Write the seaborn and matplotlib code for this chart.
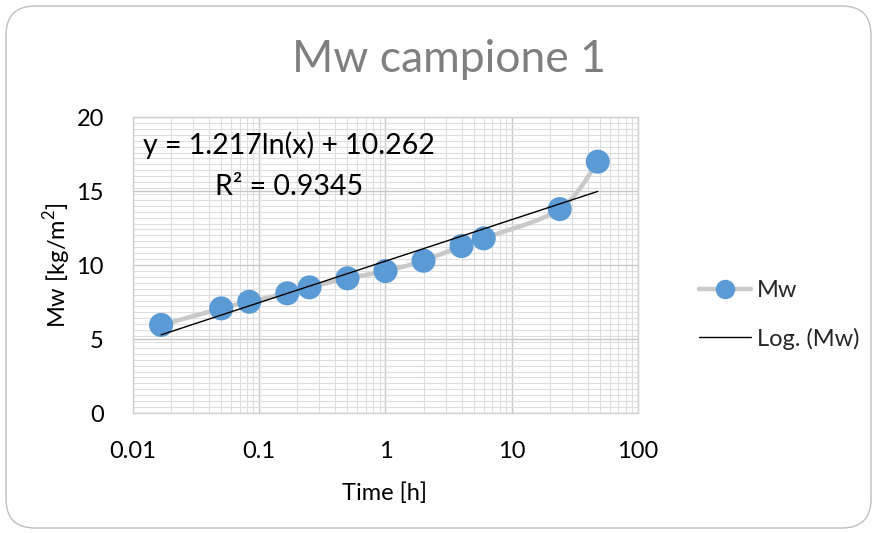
import numpy as np
import pandas as pd
import matplotlib
matplotlib.use("Agg")
import matplotlib.pyplot as plt
import seaborn as sns
from matplotlib.lines import Line2D
from matplotlib.patches import FancyBboxPatch
from matplotlib.ticker import FixedLocator, FixedFormatter, MultipleLocator, LogLocator, NullFormatter

# ---- data ----
time_h = [0.0167, 0.05, 0.0833, 0.1667, 0.25, 0.5, 1, 2, 4, 6, 24, 48]
mw = [5.95, 7.07, 7.52, 8.09, 8.49, 9.10, 9.59, 10.29, 11.28, 11.80, 13.78, 16.98]
trend_a = 1.217
trend_b = 10.262
r2 = 0.9345
x_ticks = [0.01, 0.1, 1, 10, 100]
x_tick_labels = ["0.01", "0.1", "1", "10", "100"]
y_ticks = [0, 5, 10, 15, 20]
title = "Mw campione 1"
x_label = "Time [h]"
y_label = "Mw [kg/m$^2$]"
series_name = "Mw"
trend_name = "Log. (Mw)"

sns.set_theme(style="white")
plt.rcParams["font.family"] = ["Lato", "DejaVu Sans"]
plt.rcParams["mathtext.fontset"] = "custom"
plt.rcParams["mathtext.rm"] = "Lato"

W, H = 879, 533
fig = plt.figure(figsize=(W / 100, H / 100), dpi=100)
fig.patch.set_facecolor("white")
border = FancyBboxPatch((6 / W, 5 / H), (W - 14) / W, (H - 11) / H,
                        boxstyle="round,pad=0,rounding_size=0.033",
                        transform=fig.transFigure, facecolor="white",
                        edgecolor="#bfbfbf", linewidth=1.0, mutation_aspect=W / H,
                        zorder=-5)
fig.patches.append(border)

ax = fig.add_axes([133 / W, 1 - 413 / H, (638 - 133) / W, (413 - 117) / H])
ax.set_facecolor("white")
ax.set_xscale("log")
ax.set_xlim(0.01, 100)
ax.set_ylim(0, 20)

# grid
ax.xaxis.set_major_locator(FixedLocator(x_ticks))
ax.xaxis.set_major_formatter(FixedFormatter(x_tick_labels))
ax.xaxis.set_minor_locator(LogLocator(base=10, subs=np.arange(2, 10)))
ax.xaxis.set_minor_formatter(NullFormatter())
ax.yaxis.set_major_locator(FixedLocator(y_ticks))
ax.yaxis.set_minor_locator(MultipleLocator(0.4))
ax.grid(which="major", color="#c8c8c8", linewidth=1.0)
ax.grid(which="minor", color="#dedede", linewidth=0.8)
ax.set_axisbelow(True)
for s in ax.spines.values():
    s.set_color("#d0d0d0")
    s.set_linewidth(1.0)
ax.tick_params(which="both", length=0, labelsize=17, colors="black")
ax.tick_params(axis="x", pad=20)
ax.tick_params(axis="y", pad=21)

# smoothed line (Bezier / Catmull-Rom like Excel) in display-like coordinates
u = np.log10(np.array(time_h)) * 126.0
v = np.array(mw) * 14.8
pts = np.column_stack([u, v])
n = len(pts)
curve = []
for i in range(n - 1):
    p0 = pts[i - 1] if i > 0 else pts[i]
    p1 = pts[i]
    p2 = pts[i + 1]
    p3 = pts[i + 2] if i + 2 < n else pts[i + 1]
    c1 = p1 + (p2 - p0) / 6.0
    c2 = p2 - (p3 - p1) / 6.0
    t = np.linspace(0, 1, 40)[:, None]
    seg = ((1 - t) ** 3) * p1 + 3 * ((1 - t) ** 2) * t * c1 + 3 * (1 - t) * t ** 2 * c2 + t ** 3 * p2
    curve.append(seg)
curve = np.vstack(curve)
smooth_df = pd.DataFrame({"x": 10 ** (curve[:, 0] / 126.0), "y": curve[:, 1] / 14.8})
ax.plot(smooth_df["x"], smooth_df["y"], color="#c9c9c9", linewidth=3.2,
        solid_capstyle="round", zorder=2)

# trend line
xt = np.logspace(np.log10(min(time_h)), np.log10(max(time_h)), 100)
trend_df = pd.DataFrame({"x": xt, "y": trend_a * np.log(xt) + trend_b})
sns.lineplot(data=trend_df, x="x", y="y", ax=ax, color="black", linewidth=1.0,
             zorder=4, legend=False)

# points
pts_df = pd.DataFrame({"x": time_h, "y": mw})
sns.scatterplot(data=pts_df, x="x", y="y", ax=ax, color="#5b9bd5", s=300,
                edgecolor="none", linewidth=0, zorder=3, legend=False)

ax.set_xlabel(x_label, fontsize=17, color="black")
ax.set_ylabel(y_label, fontsize=17, color="black")
ax.xaxis.set_label_coords(0.499, -0.236)
ax.yaxis.set_label_coords(-0.119, 0.5)

# equation text
ax.text(289 / W, 1 - 166 / H,
        f"y = {trend_a}ln(x) + {trend_b}\nR² = {r2}",
        transform=fig.transFigure, ha="center", va="center", fontsize=20.5,
        color="black", linespacing=1.72)

fig.text(449 / W, 1 - 59 / H, title, ha="center", va="center", fontsize=32,
         color="#7f7f7f")

handles = [
    Line2D([0], [0], color="#c9c9c9", linewidth=3.2, marker="o", markersize=13,
           markerfacecolor="#5b9bd5", markeredgecolor="#5b9bd5"),
    Line2D([0], [0], color="black", linewidth=1.0),
]
fig.legend(handles, [series_name, trend_name], loc="center left",
           bbox_to_anchor=(678 / W, 1 - 315 / H), frameon=False, fontsize=17,
           handlelength=2.2, handletextpad=0.25, labelspacing=1.1)

fig.savefig("out.png", dpi=100)
